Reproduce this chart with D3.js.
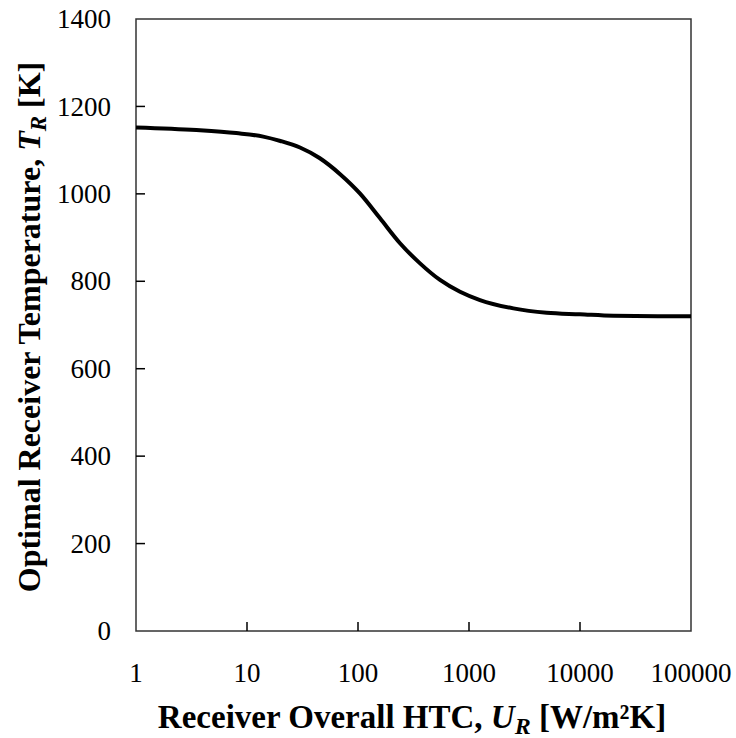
<!DOCTYPE html>
<html>
<head>
<meta charset="utf-8">
<script src="https://cdn.jsdelivr.net/npm/d3@7"></script>
<style>
  body { margin: 0; background: #fff; }
  text { font-family: "Liberation Serif", "Times New Roman", serif; fill: #000; }
</style>
</head>
<body>
<div id="chart"></div>
<script>
const htc = [1, 3.5, 8, 14, 20, 30, 45, 69, 104, 158, 239, 362, 548, 830, 1256, 2512, 5012, 10000, 20000, 50000, 100000];
const tempR = [1152, 1146, 1139, 1131, 1121, 1106, 1082, 1045, 1001, 944, 887, 841, 803, 776, 757, 738, 728, 724.5, 721, 720, 720];
const xTicks = [1, 10, 100, 1000, 10000, 100000];
const yTicks = [0, 200, 400, 600, 800, 1000, 1200, 1400];

const width = 736, height = 738;
const margin = { left: 136, right: 45, top: 19, bottom: 107 };

const svg = d3.select("#chart").append("svg")
  .attr("width", width)
  .attr("height", height);

const x = d3.scaleLog().domain([1, 100000]).range([margin.left, width - margin.right]);
const y = d3.scaleLinear().domain([0, 1400]).range([height - margin.bottom, margin.top]);

// frame
svg.append("rect")
  .attr("x", x(1)).attr("y", y(1400))
  .attr("width", x(100000) - x(1)).attr("height", y(0) - y(1400))
  .attr("fill", "none").attr("stroke", "#333").attr("stroke-width", 1.5);

// y ticks (inward) + labels
svg.selectAll(".ytick").data(yTicks.slice(1, -1)).join("line")
  .attr("x1", x(1)).attr("x2", x(1) + 9)
  .attr("y1", d => y(d)).attr("y2", d => y(d))
  .attr("stroke", "#000").attr("stroke-width", 1.5);
svg.selectAll(".ylab").data(yTicks).join("text")
  .attr("x", 111).attr("y", d => y(d)).attr("dy", "0.34em")
  .attr("text-anchor", "end").attr("font-size", "27px")
  .text(d => d);

// x ticks (inward) + labels
svg.selectAll(".xtick").data(xTicks.slice(1, -1)).join("line")
  .attr("x1", d => x(d)).attr("x2", d => x(d))
  .attr("y1", y(0)).attr("y2", y(0) - 9)
  .attr("stroke", "#000").attr("stroke-width", 1.5);
svg.selectAll(".xlab").data(xTicks).join("text")
  .attr("x", d => x(d)).attr("y", 682)
  .attr("text-anchor", "middle").attr("font-size", "27px")
  .text(d => d);

// curve
const line = d3.line()
  .x((d, i) => x(htc[i]))
  .y(d => y(d))
  .curve(d3.curveMonotoneX);
svg.append("path")
  .datum(tempR)
  .attr("d", line)
  .attr("fill", "none").attr("stroke", "#000").attr("stroke-width", 4);

// x title
const xt = svg.append("text")
  .attr("x", 412).attr("y", 728)
  .attr("text-anchor", "middle").attr("font-size", "33px").attr("font-weight", "bold");
xt.append("tspan").text("Receiver Overall HTC, ");
xt.append("tspan").attr("font-style", "italic").text("U");
xt.append("tspan").attr("font-style", "italic").attr("font-size", "24px").attr("dy", 6).text("R");
xt.append("tspan").attr("dy", -6).text(" [W/m²K]");

// y title
const yt = svg.append("text")
  .attr("transform", "translate(40,327) rotate(-90)")
  .attr("text-anchor", "middle").attr("font-size", "32px").attr("font-weight", "bold");
yt.append("tspan").text("Optimal Receiver Temperature, ");
yt.append("tspan").attr("font-style", "italic").text("T");
yt.append("tspan").attr("font-style", "italic").attr("font-size", "23px").attr("dy", 6).text("R");
yt.append("tspan").attr("dy", -6).text(" [K]");
</script>
</body>
</html>
